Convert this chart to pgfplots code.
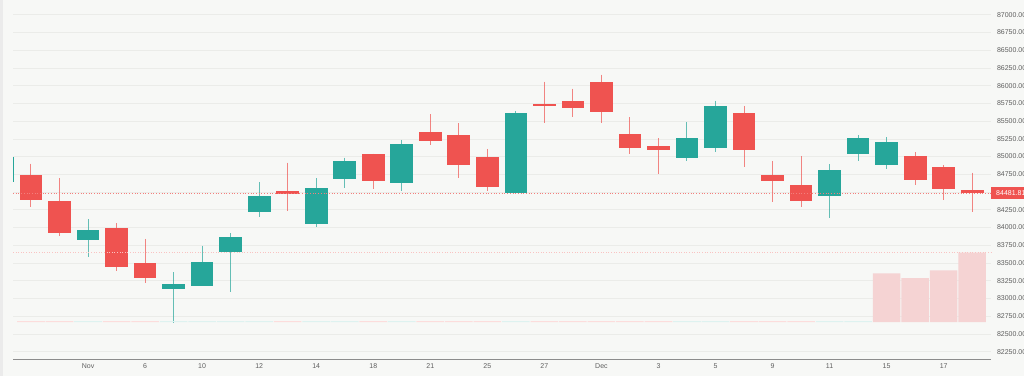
\documentclass[border=0pt]{standalone}
\usepackage{fontspec}
\setmainfont{Liberation Sans}
\usepackage{pgfplots}
\usepackage{pgfplotstable}
\pgfplotsset{compat=1.18}
\definecolor{bg}{RGB}{247,248,246}
\definecolor{gridc}{RGB}{235,236,233}
\definecolor{cred}{HTML}{EF5350}
\definecolor{cteal}{HTML}{26A69A}
\definecolor{volc}{RGB}{245,211,211}
\definecolor{labc}{RGB}{95,95,95}

% down (red) candles: index, open, high, low, close
\pgfplotstableread{
k o h l c
1 84741 84900 84294 84388
2 84370 84694 83885 83919
4 83990 84060 83392 83444
5 83500 83839 83223 83293
10 84519 84914 84238 84469
13 85032 85040 84543 84660
15 85347 85600 85168 85224
16 85309 85469 84694 84882
17 84994 85107 84519 84567
19 85741 86056 85469 85709
20 85788 85957 85562 85689
21 86056 86154 85478 85629
22 85319 85554 85041 85121
23 85145 85258 84755 85089
26 85615 85713 84858 85093
27 84736 84938 84364 84652
28 84600 85009 84294 84374
32 85013 85061 84604 84666
33 84849 84882 84393 84548
34 84525 84773 84219 84481.81
}\downtab

% up (teal) candles: index, open, high, low, close
\pgfplotstableread{
k o h l c
0 84646 84990 84646 84990
3 83820 84116 83589 83966
6 83130 83369 82651 83200
7 83176 83744 83176 83519
8 83651 83919 83096 83863
9 84223 84638 84145 84449
11 84046 84694 84012 84553
12 84689 84985 84562 84942
14 84628 85234 84511 85182
18 84491 85643 84483 85610
24 84976 85483 84938 85258
25 85117 85788 85065 85709
29 84441 84892 84139 84811
30 85041 85304 84942 85258
31 84877 85272 84830 85206
}\uptab

\pgfplotsset{base/.style={at={(13pt,17pt)}, anchor=south west, scale only axis,
  width=978pt, height=359pt, xmin=0.369, xmax=34.66, enlargelimits=false},
  nomk/.style={only marks, mark=text, text mark={}}}

\begin{document}
\begin{tikzpicture}
\fill[bg] (0,0) rectangle (1024pt,376pt);
\fill[black!8] (0,0) rectangle (3pt,376pt);

\begin{axis}[base, ymin=82147, ymax=87207,
  clip mode=individual,
  axis x line*=bottom, axis y line*=right,
  x axis line style={draw=black!45, line width=0.9pt, -},
  y axis line style={draw=none},
  major tick length=0pt,
  xtick={3,5,...,33},
  xticklabels={Nov,6,10,12,14,18,21,25,27,Dec,3,5,9,11,15,17},
  ytick={82250,82500,82750,83000,83250,83500,83750,84000,84250,84750,85000,85250,85500,85750,86000,86250,86500,86750,87000},
  extra y ticks={84500}, extra y tick labels={}, extra y tick style={grid=major},
  scaled y ticks=false,
  ymajorgrids, grid style={gridc, line width=0.6pt},
  yticklabel style={font=\fontsize{7}{8}\selectfont, text=labc, anchor=west, xshift=2.5pt},
  xticklabel style={font=\fontsize{7}{8}\selectfont, text=labc, yshift=-1pt},
  /pgf/number format/.cd, fixed, fixed zerofill, precision=2, 1000 sep={}, assume math mode=true,
]
% wicks
\addplot[nomk, cred, error bars/.cd, y dir=minus, y explicit, error mark=none,
  error bar style={line width=1pt, opacity=0.7}]
  table[x=k, y=h, y error expr=\thisrow{h}-\thisrow{l}] {\downtab};
\addplot[nomk, cteal, error bars/.cd, y dir=minus, y explicit, error mark=none,
  error bar style={line width=1pt, opacity=0.7}]
  table[x=k, y=h, y error expr=\thisrow{h}-\thisrow{l}] {\uptab};
% bodies
\addplot[nomk, cred, error bars/.cd, y dir=both, y explicit, error mark=none,
  error bar style={line width=22.7pt}]
  table[x=k, y expr=(\thisrow{o}+\thisrow{c})/2, y error expr=abs(\thisrow{c}-\thisrow{o})/2] {\downtab};
\addplot[nomk, cteal, error bars/.cd, y dir=both, y explicit, error mark=none,
  error bar style={line width=22.7pt}]
  table[x=k, y expr=(\thisrow{o}+\thisrow{c})/2, y error expr=abs(\thisrow{c}-\thisrow{o})/2] {\uptab};
% last price line and label
\draw[cred!75, dotted, line width=0.7pt] (axis cs:0.369,84481.81) -- (axis cs:34.66,84481.81);
\node[fill=cred, text=white, font=\fontsize{7}{8}\selectfont, anchor=west, inner xsep=5pt,
  inner ysep=0pt, minimum height=12pt] at (axis cs:34.66,84481.81) {84481.81};
\end{axis}

\begin{axis}[base, ymin=-37, ymax=322, hide axis, clip=false, ybar]
\addplot[fill=volc, draw=none, bar width=27.6pt, bar shift=0pt]
  coordinates {(31,48.7) (32,44) (33,51.7) (34,69.3)};
\addplot[fill=cred!20, draw=none, bar width=27.6pt, bar shift=0pt]
  coordinates {(1,0.8) (2,0.8) (4,0.8) (5,0.8) (10,0.8) (13,0.8) (15,0.8) (16,0.8) (17,0.8) (19,0.8) (20,0.8) (21,0.8) (22,0.8) (23,0.8) (26,0.8) (27,0.8) (28,0.8)};
\addplot[fill=cteal!15, draw=none, bar width=27.6pt, bar shift=0pt]
  coordinates {(3,0.8) (6,0.8) (7,0.8) (8,0.8) (9,0.8) (11,0.8) (12,0.8) (14,0.8) (18,0.8) (24,0.8) (25,0.8) (29,0.8) (30,0.8)};
\draw[cred!35, dotted, line width=0.6pt] (axis cs:0.369,69.3) -- (axis cs:34.66,69.3);
\end{axis}

\pgfresetboundingbox
\path[use as bounding box] (0,0) rectangle (1024pt,376pt);
\end{tikzpicture}
\end{document}
